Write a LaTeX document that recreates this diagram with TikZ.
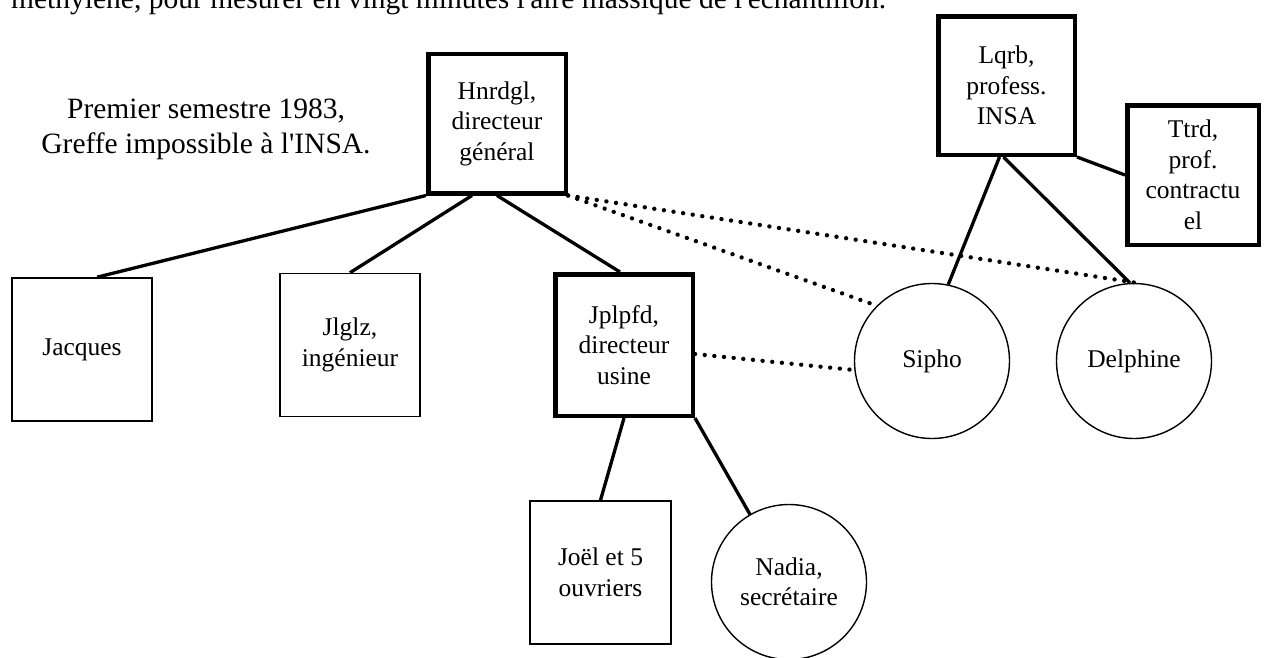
\documentclass[tikz,border=0pt]{standalone}
\usepackage{fontspec}
\setmainfont{Liberation Serif}[Ligatures=TeXOff]
\usepackage{tikz}
\usetikzlibrary{positioning}
\newcommand\boxfont{\fontsize{25.5}{30.5}\selectfont}
\newcommand\notefont{\fontsize{29.5}{35}\selectfont}
\tikzstyle{link} = [draw, line width=3.3pt]
\tikzstyle{dots} = [draw, line width=4.3pt, line cap=round, dash pattern=on 0.1pt off 9.6pt]

\begin{document}
\begin{tikzpicture}[x=1pt, y=-1pt, thinbox/.style={rectangle, draw, line width=1.6pt, minimum width=140.5pt, minimum height=143pt, inner sep=0pt, align=center, font=\boxfont}, thickbox/.style={thinbox, line width=4.5pt, minimum width=137.5pt, minimum height=139.5pt}, person/.style={circle, draw, line width=1.4pt, minimum size=155pt, inner sep=0pt, align=center, font=\boxfont}]

    \useasboundingbox (0,0) rectangle (1264,657);
    \clip (0,0) rectangle (1264,657);

    \node [anchor=base west, inner sep=0pt, font=\notefont] (intro) at (11,8) {méthylène, pour mesurer en vingt minutes l'aire massique de l'échantillon.};
    \node [align=center, inner sep=0pt, font=\notefont] (note) at (206,129.7) {Premier semestre 1983,\\Greffe impossible à l'INSA.};

    \node [thickbox] (hnr) at (497,123.5) {Hnrdgl,\\directeur\\général};
    \node [thinbox] (jac) at (82,349.5) {Jacques};
    \node [thinbox] (jlg) at (350,345) {Jlglz,\\ingénieur};
    \node [thickbox, minimum height=141.5pt] (jpl) at (624,345) {Jplpfd,\\directeur\\usine};
    \node [thinbox] (joe) at (600.5,572.5) {Joël et 5\\ouvriers};
    \node [person] (nad) at (789,582) {Nadia,\\secrétaire};
    \node [person] (sip) at (932,361) {Sipho};
    \node [person] (del) at (1134,361) {Delphine};
    \node [thickbox, minimum width=136.5pt, minimum height=138.5pt] (lqr) at (1006.5,85.5) {Lqrb,\\profess.\\INSA};
    \node [thickbox, minimum width=131.5pt] (ttr) at (1193,175) {Ttrd,\\prof.\\contractu\\el};

    \draw[link] (hnr.south west) -- ([xshift=15pt]jac.north);
    \draw[link] ([xshift=-25pt]hnr.south) -- (jlg.north);
    \draw[link] (hnr.south) -- ([xshift=-4pt]jpl.north);
    \draw[link] (jpl.south) -- (joe.north);
    \draw[link] (jpl.south east) -- (nad.120);
    \draw[link] ([xshift=-7pt]lqr.south) -- (sip.78);
    \draw[link] ([xshift=-3pt]lqr.south) -- (del.93);
    \draw[link] (lqr.south east) -- (ttr.west);

    \draw[dots] (hnr.south east) -- (del.88);
    \draw[dots] (hnr.south east) -- (sip.135);
    \draw[dots] ([yshift=-9pt]jpl.east) -- ([yshift=-9pt]sip.west);

\end{tikzpicture}
\end{document}
